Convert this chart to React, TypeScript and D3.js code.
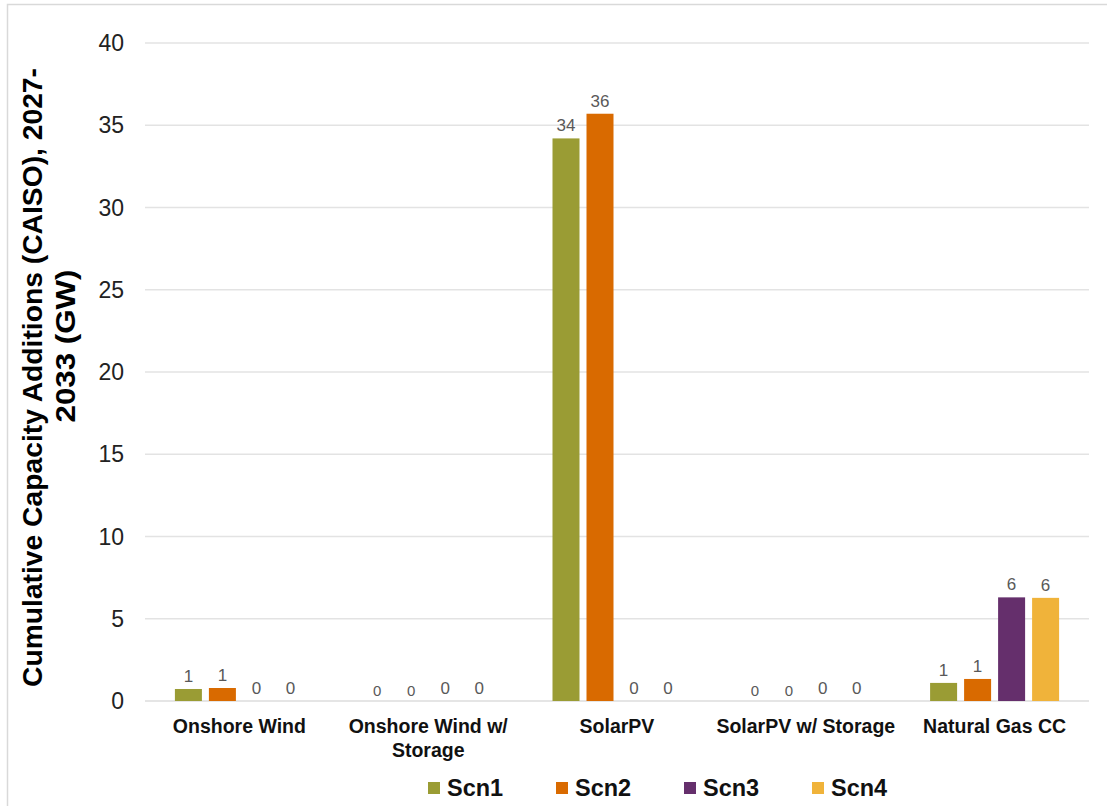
import React from "react";
import * as d3 from "d3";

const categories = ["Onshore Wind", "Onshore Wind w/ Storage", "SolarPV", "SolarPV w/ Storage", "Natural Gas CC"];
const categoryLines = [["Onshore Wind"], ["Onshore Wind w/", "Storage"], ["SolarPV"], ["SolarPV w/ Storage"], ["Natural Gas CC"]];
const seriesNames = ["Scn1", "Scn2", "Scn3", "Scn4"];
const seriesColors = ["#9a9c34", "#d96a00", "#652f6c", "#f0b33a"];
const scn1 = [0.73, 0, 34.2, 0, 1.1];
const scn2 = [0.79, 0, 35.7, 0, 1.34];
const scn3 = [0, 0, 0, 0, 6.3];
const scn4 = [0, 0, 0, 0, 6.27];
const seriesValues = [scn1, scn2, scn3, scn4];
// labels drawn in a smaller font in the original (per category, per series)
const smallLabel = [
  [false, false, false, false],
  [true, true, false, false],
  [false, false, false, false],
  [true, true, false, false],
  [false, false, false, false],
];
const yTicks = [0, 5, 10, 15, 20, 25, 30, 35, 40];

const W = 1107;
const H = 806;
const left = 145;
const right = 1089;
const top = 43;
const bottom = 701;

export default function App() {
  const x = d3.scaleBand<string>().domain(categories).range([left, right]);
  const y = d3.scaleLinear().domain([0, 40]).range([bottom, top]);
  const step = 34;
  const barW = 27;
  const font = "Liberation Sans, Arial, sans-serif";

  return (
    <svg width={W} height={H} style={{ position: "absolute", left: 0, top: 0, background: "#fff" }} fontFamily={font}>
      <rect x={7.5} y={4.5} width={W + 10} height={H + 10} fill="none" stroke="#d9d9d9" strokeWidth={1.5} />
      {yTicks.map((t) => (
        <g key={t}>
          {t > 0 && <line x1={left} x2={right} y1={y(t)} y2={y(t)} stroke="#e3e3e3" strokeWidth={1.5} />}
          <text x={124} y={y(t)} dy="0.35em" textAnchor="end" fontSize={23} fill="#222">{t}</text>
        </g>
      ))}
      <line x1={left} x2={right} y1={y(0)} y2={y(0)} stroke="#dcdcdc" strokeWidth={1.5} />
      {categories.map((c, ci) => {
        const cx = x(c)! + x.bandwidth() / 2;
        const g0 = cx - (step * 3 + barW) / 2;
        return (
          <g key={c}>
            {seriesValues.map((vals, si) => {
              const v = vals[ci];
              const bx = g0 + si * step;
              const small = smallLabel[ci][si];
              return (
                <g key={si}>
                  {v > 0 && (
                    <rect x={bx} y={y(v)} width={barW} height={y(0) - y(v)} fill={seriesColors[si]} />
                  )}
                  <text
                    x={bx + barW / 2}
                    y={y(v) - (small ? 5 : 7)}
                    textAnchor="middle"
                    fontSize={small ? 15 : 17}
                    fill="#595959"
                  >
                    {Math.round(v)}
                  </text>
                </g>
              );
            })}
            {categoryLines[ci].map((ln, li) => (
              <text key={li} x={cx} y={733 + li * 24} textAnchor="middle" fontSize={19.5} fontWeight="bold" fill="#111">
                {ln}
              </text>
            ))}
          </g>
        );
      })}
      <g transform="translate(33,377.5) rotate(-90)">
        <text x={0} y={0} dy="0.35em" textAnchor="middle" fontSize={27} fontWeight="bold" fill="#000"
          textLength={619} lengthAdjust="spacingAndGlyphs">
          Cumulative Capacity Additions (CAISO), 2027-
        </text>
        <text x={31.5} y={33} dy="0.35em" textAnchor="middle" fontSize={27} fontWeight="bold" fill="#000"
          textLength={153} lengthAdjust="spacingAndGlyphs">
          2033 (GW)
        </text>
      </g>
      {seriesNames.map((s, i) => (
        <g key={s} transform={`translate(${428 + i * 128},788)`}>
          <rect x={0} y={-6} width={12} height={12} fill={seriesColors[i]} />
          <text x={19} y={0} dy="0.35em" fontSize={23.5} fontWeight="bold" fill="#111">{s}</text>
        </g>
      ))}
    </svg>
  );
}
